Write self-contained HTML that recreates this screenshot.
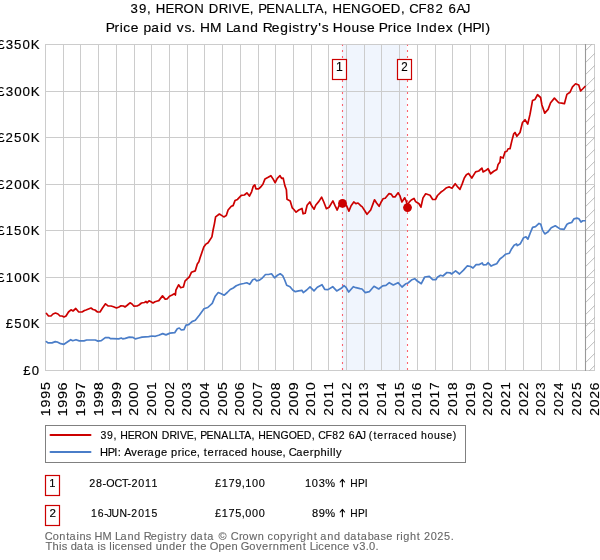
<!DOCTYPE html>
<html><head><meta charset="utf-8"><title>39, Heron Drive, Penallta - Price paid vs HPI</title>
<style>html,body{margin:0;padding:0;background:#fff;overflow:hidden}svg{display:block;will-change:transform}text{font-family:"Liberation Sans", sans-serif;font-kerning:none;font-variant-ligatures:none}</style>
</head><body>
<svg width="600" height="560" viewBox="0 0 600 560">
<rect x="0" y="0" width="600" height="560" fill="#fff"/>
<rect x="341.8" y="44.8" width="65.0" height="325.5" fill="#f0f5fd"/>
<path d="M45.5 44 V371 M63.5 44 V371 M80.5 44 V371 M98.5 44 V371 M116.5 44 V371 M134.5 44 V371 M151.5 44 V371 M169.5 44 V371 M187.5 44 V371 M204.5 44 V371 M222.5 44 V371 M240.5 44 V371 M258.5 44 V371 M275.5 44 V371 M293.5 44 V371 M311.5 44 V371 M328.5 44 V371 M346.5 44 V371 M364.5 44 V371 M381.5 44 V371 M399.5 44 V371 M417.5 44 V371 M435.5 44 V371 M452.5 44 V371 M470.5 44 V371 M488.5 44 V371 M505.5 44 V371 M523.5 44 V371 M541.5 44 V371 M559.5 44 V371 M576.5 44 V371 M594.5 44 V371 M45 370.5 H595 M45 323.5 H595 M45 277.5 H595 M45 230.5 H595 M45 184.5 H595 M45 137.5 H595 M45 91.5 H595 M45 44.5 H595" stroke="#cccccc" stroke-width="1" fill="none"/>
<clipPath id="hc"><rect x="585.5" y="44" width="9.5" height="327"/></clipPath>
<path d="M585.5 26.65 L595 17.15 M585.5 38.65 L595 29.15 M585.5 50.65 L595 41.15 M585.5 62.65 L595 53.15 M585.5 74.65 L595 65.15 M585.5 86.65 L595 77.15 M585.5 98.65 L595 89.15 M585.5 110.65 L595 101.15 M585.5 122.65 L595 113.15 M585.5 134.65 L595 125.15 M585.5 146.65 L595 137.15 M585.5 158.65 L595 149.15 M585.5 170.65 L595 161.15 M585.5 182.65 L595 173.15 M585.5 194.65 L595 185.15 M585.5 206.65 L595 197.15 M585.5 218.65 L595 209.15 M585.5 230.65 L595 221.15 M585.5 242.65 L595 233.15 M585.5 254.65 L595 245.15 M585.5 266.65 L595 257.15 M585.5 278.65 L595 269.15 M585.5 290.65 L595 281.15 M585.5 302.65 L595 293.15 M585.5 314.65 L595 305.15 M585.5 326.65 L595 317.15 M585.5 338.65 L595 329.15 M585.5 350.65 L595 341.15 M585.5 362.65 L595 353.15 M585.5 374.65 L595 365.15 M585.5 386.65 L595 377.15 M585.5 398.65 L595 389.15" stroke="#b4b4b4" stroke-width="0.9" fill="none" clip-path="url(#hc)"/>
<path d="M585.5 44 V371" stroke="#999" stroke-width="1.1"/>
<path d="M342.5 44.8 V370.3" stroke="#fb6470" stroke-width="1.1" stroke-dasharray="2 4" stroke-dashoffset="0.8"/>
<path d="M407.5 44.8 V370.3" stroke="#fb6470" stroke-width="1.1" stroke-dasharray="2 4" stroke-dashoffset="0.8"/>
<polyline points="46.40,341.60 48.00,342.90 52.00,342.90 55.30,341.60 57.30,342.00 60.70,343.70 64.00,344.30 67.30,342.00 70.70,339.70 72.70,340.70 76.00,339.70 79.30,340.90 84.00,340.90 86.70,340.00 95.30,340.00 98.00,341.10 101.30,340.70 105.30,337.60 108.70,337.60 110.70,338.70 112.70,338.70 118.70,338.90 121.30,338.00 122.70,338.90 125.30,338.40 129.30,337.10 132.70,337.30 135.30,338.90 138.70,338.00 142.00,337.10 148.70,336.70 152.00,336.00 155.30,336.30 158.70,335.30 162.70,333.60 166.00,334.90 170.00,333.10 174.70,332.70 177.30,328.70 179.30,328.00 181.30,330.00 184.00,329.60 186.00,325.10 188.70,324.70 192.00,321.60 195.30,320.30 199.50,315.00 204.00,308.70 207.75,307.50 212.25,303.30 215.25,296.20 218.25,292.50 221.25,293.70 224.25,295.20 227.25,292.50 230.25,289.50 233.25,288.00 236.25,285.75 240.00,284.25 243.75,283.50 246.75,282.75 249.75,284.25 252.75,279.75 255.00,279.00 256.50,280.80 259.50,280.20 262.50,277.80 265.50,274.50 268.50,274.50 271.50,273.75 274.50,277.80 277.50,275.25 280.20,273.75 282.70,275.70 284.70,280.00 286.70,285.30 290.00,286.70 292.70,290.00 295.30,291.70 298.70,290.90 302.00,290.40 303.30,292.70 306.70,290.00 310.00,286.90 314.00,290.90 317.30,287.30 322.00,284.70 324.70,289.30 328.00,289.60 332.70,286.70 336.70,290.90 341.30,288.30 344.00,285.60 346.00,287.30 348.70,292.00 353.30,286.70 356.00,287.70 360.00,288.60 362.00,289.00 365.30,292.60 369.30,291.70 374.00,286.30 378.70,289.00 382.70,285.90 386.00,285.40 389.30,282.70 393.30,285.00 398.00,282.70 402.00,287.00 406.00,283.70 408.00,283.00 412.00,279.70 414.70,278.70 417.30,281.00 421.30,283.70 424.70,277.00 429.30,276.30 432.70,279.70 436.00,279.70 437.40,277.20 440.50,275.30 442.90,276.00 446.90,272.50 450.00,272.80 451.60,274.00 455.60,270.90 459.50,274.00 463.50,270.10 467.40,265.80 470.60,266.50 473.00,268.00 476.10,264.60 479.30,264.60 482.20,263.00 483.30,264.90 486.40,264.60 488.00,262.70 491.20,266.10 494.30,264.60 496.70,263.80 499.90,259.00 503.00,256.60 505.40,254.30 509.40,253.20 511.70,248.70 514.10,245.30 516.50,244.00 517.30,245.60 520.40,243.70 523.60,237.70 526.00,236.90 527.90,239.10 530.25,233.00 532.60,227.40 535.50,226.60 539.00,223.40 540.75,224.25 542.50,230.10 544.80,233.90 547.75,232.10 551.25,227.75 555.30,225.80 560.00,228.90 564.10,229.30 567.00,224.25 569.30,223.10 571.70,222.50 574.00,218.80 576.90,218.10 578.90,218.80 581.00,222.00 582.75,220.75 585.10,220.75" fill="none" stroke="#4a7dc8" stroke-width="1.7" stroke-linejoin="round" stroke-linecap="round"/>
<polyline points="46.50,313.50 48.50,316.00 51.00,316.00 53.00,314.00 55.50,313.00 58.00,314.00 60.00,316.00 62.00,316.00 64.00,317.00 66.00,316.00 68.50,312.00 71.00,309.80 73.00,311.00 75.80,308.50 78.50,311.80 82.00,312.00 84.50,310.50 86.00,310.00 88.50,309.00 91.00,308.00 93.00,309.50 95.00,310.00 97.50,312.00 100.00,312.00 102.50,308.00 105.50,303.80 108.00,305.80 111.00,306.00 113.50,306.80 116.50,308.00 119.00,307.00 121.00,305.80 123.50,306.00 125.00,307.00 127.50,305.00 130.00,302.80 132.00,304.00 134.00,306.20 137.00,306.00 139.00,305.00 141.50,303.00 144.50,302.50 146.00,301.50 147.00,302.80 149.00,300.80 151.00,301.80 153.00,303.00 155.00,301.80 157.50,301.00 158.80,300.60 162.50,295.90 165.20,299.10 167.30,298.80 169.50,296.30 172.10,295.00 174.30,293.70 175.40,295.00 175.90,290.20 178.60,284.80 180.70,287.70 183.40,287.00 185.00,281.10 187.20,278.90 189.30,277.00 191.40,272.30 195.20,270.90 197.30,263.90 198.90,261.80 200.00,258.10 201.90,252.50 203.80,246.90 205.60,244.40 208.10,242.80 211.90,236.90 213.10,230.00 214.40,223.80 215.60,216.90 219.40,214.00 221.90,215.60 223.80,216.90 226.30,215.60 228.10,210.00 231.30,206.30 233.10,205.60 235.00,200.60 237.50,199.40 241.30,195.30 244.40,195.00 246.90,192.80 249.40,196.00 251.60,191.80 253.20,186.40 254.80,184.80 255.90,188.80 258.60,188.80 260.70,187.00 262.90,184.30 265.00,178.90 267.70,177.60 270.90,175.70 273.00,178.90 275.20,182.70 277.30,178.40 280.00,175.70 281.60,178.40 283.20,178.10 284.80,185.40 286.40,189.70 287.00,199.30 290.20,200.90 292.30,207.90 293.90,209.50 296.10,212.20 298.80,210.00 302.00,208.40 303.10,213.80 305.20,213.20 307.10,205.20 309.80,202.00 312.00,206.30 314.10,209.20 315.70,205.20 318.90,201.40 321.60,197.10 323.80,202.00 326.40,208.70 329.10,207.30 332.90,200.90 335.00,205.70 337.20,210.00 339.30,205.20 342.50,203.40 346.30,205.20 348.90,211.10 351.10,205.70 353.80,202.00 355.90,203.60 358.00,203.00 360.70,205.70 362.10,206.60 364.30,210.00 367.00,214.30 370.70,210.00 372.90,204.10 374.50,199.80 376.60,203.00 379.10,206.30 380.90,202.50 383.00,198.80 385.20,198.20 388.90,193.70 391.10,194.10 393.10,196.90 395.00,196.90 398.10,192.80 400.00,195.90 401.90,201.90 404.70,197.80 405.90,200.30 407.40,205.00 409.40,201.90 411.25,200.00 414.00,198.40 415.60,201.60 417.50,202.80 419.00,203.75 420.90,207.20 423.00,197.90 425.70,193.80 430.00,195.20 432.70,199.50 435.40,199.50 437.50,195.50 440.70,192.30 443.40,190.40 446.60,187.70 449.30,186.90 452.00,188.20 455.20,183.70 457.90,187.20 460.00,189.30 462.20,183.90 464.30,178.00 466.40,174.80 468.60,173.40 471.80,178.00 475.60,171.90 478.75,171.00 481.90,168.10 483.10,171.90 485.60,170.60 488.10,168.75 490.60,173.75 493.75,171.25 496.90,169.40 498.10,164.40 500.00,161.90 500.60,156.90 503.10,158.10 505.00,151.90 506.90,151.25 508.10,148.75 510.00,148.75 511.90,140.60 513.75,133.75 515.00,132.50 516.90,136.25 520.00,132.50 522.50,122.50 525.00,119.75 527.75,124.00 530.00,114.40 532.50,100.60 535.00,99.40 537.50,94.75 540.60,97.50 541.90,105.00 544.75,113.10 548.10,109.40 550.60,102.75 554.40,98.10 558.75,102.75 561.90,103.10 564.40,103.75 566.90,94.40 570.00,92.25 572.50,86.90 575.60,83.75 578.75,85.00 580.60,91.00 583.10,88.50 585.00,86.50" fill="none" stroke="#cc0000" stroke-width="1.7" stroke-linejoin="round" stroke-linecap="round"/>
<circle cx="342.5" cy="203.4" r="4.4" fill="#cc0000"/>
<circle cx="407.5" cy="207.6" r="4.4" fill="#cc0000"/>
<rect x="332.5" y="59.5" width="14" height="20" fill="#fff" stroke="#cc0000" stroke-width="1.2"/>
<text x="335.96" y="71.00" font-size="11.90" textLength="6.84" lengthAdjust="spacingAndGlyphs" fill="#000" stroke="#000" stroke-width="0.15">1</text>
<rect x="397.5" y="59.5" width="14" height="20" fill="#fff" stroke="#cc0000" stroke-width="1.2"/>
<text x="401.31" y="71.00" font-size="11.90" textLength="6.47" lengthAdjust="spacingAndGlyphs" fill="#000" stroke="#000" stroke-width="0.15">2</text>
<text transform="scale(1.0333,1)" x="22.46 30.77" y="374.80" font-size="12.70" fill="#000" stroke="#000" stroke-width="0.15">£0</text>
<text transform="scale(1.0313,1)" x="5.68 13.93 22.05 29.85" y="328.30" font-size="12.70" fill="#000" stroke="#000" stroke-width="0.15">£50K</text>
<text transform="scale(1.0537,1)" x="-2.75 5.39 13.42 21.39 29.08" y="281.80" font-size="12.70" fill="#000" stroke="#000" stroke-width="0.15">£100K</text>
<text transform="scale(1.0418,1)" x="-2.74 5.49 13.57 21.68 29.47" y="235.30" font-size="12.70" fill="#000" stroke="#000" stroke-width="0.15">£150K</text>
<text transform="scale(1.0554,1)" x="-2.75 5.27 13.39 21.35 29.03" y="188.80" font-size="12.70" fill="#000" stroke="#000" stroke-width="0.15">£200K</text>
<text transform="scale(1.0436,1)" x="-2.74 5.37 13.54 21.63 29.41" y="142.30" font-size="12.70" fill="#000" stroke="#000" stroke-width="0.15">£250K</text>
<text transform="scale(1.0546,1)" x="-2.75 5.46 13.41 21.37 29.05" y="95.80" font-size="12.70" fill="#000" stroke="#000" stroke-width="0.15">£300K</text>
<text transform="scale(1.0429,1)" x="-2.74 5.56 13.55 21.65 29.43" y="49.30" font-size="12.70" fill="#000" stroke="#000" stroke-width="0.15">£350K</text>
<text transform="translate(49.70,415) rotate(-90) scale(1.1164,1)" x="-1.08 6.74 14.53 22.32" y="0.00" font-size="12.80" fill="#000" stroke="#000" stroke-width="0.15">1995</text>
<text transform="translate(67.40,415) rotate(-90) scale(1.1311,1)" x="-1.14 6.50 14.11 21.76" y="0.00" font-size="12.80" fill="#000" stroke="#000" stroke-width="0.15">1996</text>
<text transform="translate(85.11,415) rotate(-90) scale(1.1258,1)" x="-1.10 6.65 14.37 22.10" y="0.00" font-size="12.80" fill="#000" stroke="#000" stroke-width="0.15">1997</text>
<text transform="translate(102.81,415) rotate(-90) scale(1.1268,1)" x="-1.12 6.56 14.22 21.92" y="0.00" font-size="12.80" fill="#000" stroke="#000" stroke-width="0.15">1998</text>
<text transform="translate(120.51,415) rotate(-90) scale(1.1340,1)" x="-1.14 6.51 14.12 21.74" y="0.00" font-size="12.80" fill="#000" stroke="#000" stroke-width="0.15">1999</text>
<text transform="translate(138.22,415) rotate(-90) scale(1.0895,1)" x="-0.72 7.23 15.02 22.82" y="0.00" font-size="12.80" fill="#000" stroke="#000" stroke-width="0.15">2000</text>
<text transform="translate(155.92,415) rotate(-90) scale(1.0894,1)" x="-0.69 7.35 15.23 23.04" y="0.00" font-size="12.80" fill="#000" stroke="#000" stroke-width="0.15">2001</text>
<text transform="translate(173.62,415) rotate(-90) scale(1.0951,1)" x="-0.70 7.33 15.19 22.89" y="0.00" font-size="12.80" fill="#000" stroke="#000" stroke-width="0.15">2002</text>
<text transform="translate(191.33,415) rotate(-90) scale(1.0847,1)" x="-0.70 7.34 15.21 23.10" y="0.00" font-size="12.80" fill="#000" stroke="#000" stroke-width="0.15">2003</text>
<text transform="translate(209.03,415) rotate(-90) scale(1.0850,1)" x="-0.72 7.23 15.02 22.81" y="0.00" font-size="12.80" fill="#000" stroke="#000" stroke-width="0.15">2004</text>
<text transform="translate(226.73,415) rotate(-90) scale(1.0834,1)" x="-0.68 7.39 15.29 23.15" y="0.00" font-size="12.80" fill="#000" stroke="#000" stroke-width="0.15">2005</text>
<text transform="translate(244.44,415) rotate(-90) scale(1.0973,1)" x="-0.75 7.14 14.87 22.59" y="0.00" font-size="12.80" fill="#000" stroke="#000" stroke-width="0.15">2006</text>
<text transform="translate(262.14,415) rotate(-90) scale(1.0922,1)" x="-0.71 7.29 15.13 22.94" y="0.00" font-size="12.80" fill="#000" stroke="#000" stroke-width="0.15">2007</text>
<text transform="translate(279.84,415) rotate(-90) scale(1.0933,1)" x="-0.73 7.20 14.97 22.75" y="0.00" font-size="12.80" fill="#000" stroke="#000" stroke-width="0.15">2008</text>
<text transform="translate(297.55,415) rotate(-90) scale(1.1001,1)" x="-0.75 7.14 14.87 22.57" y="0.00" font-size="12.80" fill="#000" stroke="#000" stroke-width="0.15">2009</text>
<text transform="translate(315.25,415) rotate(-90) scale(1.0777,1)" x="-0.69 7.35 15.16 23.11" y="0.00" font-size="12.80" fill="#000" stroke="#000" stroke-width="0.15">2010</text>
<text transform="translate(332.95,415) rotate(-90) scale(1.0769,1)" x="-0.66 7.48 15.38 23.35" y="0.00" font-size="12.80" fill="#000" stroke="#000" stroke-width="0.15">2011</text>
<text transform="translate(350.65,415) rotate(-90) scale(1.0827,1)" x="-0.67 7.45 15.34 23.20" y="0.00" font-size="12.80" fill="#000" stroke="#000" stroke-width="0.15">2012</text>
<text transform="translate(368.36,415) rotate(-90) scale(1.0725,1)" x="-0.66 7.46 15.36 23.40" y="0.00" font-size="12.80" fill="#000" stroke="#000" stroke-width="0.15">2013</text>
<text transform="translate(386.06,415) rotate(-90) scale(1.0735,1)" x="-0.69 7.35 15.16 23.10" y="0.00" font-size="12.80" fill="#000" stroke="#000" stroke-width="0.15">2014</text>
<text transform="translate(403.76,415) rotate(-90) scale(1.0711,1)" x="-0.65 7.51 15.45 23.46" y="0.00" font-size="12.80" fill="#000" stroke="#000" stroke-width="0.15">2015</text>
<text transform="translate(421.47,415) rotate(-90) scale(1.0857,1)" x="-0.72 7.25 15.00 22.87" y="0.00" font-size="12.80" fill="#000" stroke="#000" stroke-width="0.15">2016</text>
<text transform="translate(439.17,415) rotate(-90) scale(1.0800,1)" x="-0.68 7.41 15.27 23.24" y="0.00" font-size="12.80" fill="#000" stroke="#000" stroke-width="0.15">2017</text>
<text transform="translate(456.87,415) rotate(-90) scale(1.0815,1)" x="-0.70 7.32 15.11 23.03" y="0.00" font-size="12.80" fill="#000" stroke="#000" stroke-width="0.15">2018</text>
<text transform="translate(474.58,415) rotate(-90) scale(1.0884,1)" x="-0.72 7.26 15.01 22.85" y="0.00" font-size="12.80" fill="#000" stroke="#000" stroke-width="0.15">2019</text>
<text transform="translate(492.28,415) rotate(-90) scale(1.0797,1)" x="-0.70 7.33 15.03 23.06" y="0.00" font-size="12.80" fill="#000" stroke="#000" stroke-width="0.15">2020</text>
<text transform="translate(509.98,415) rotate(-90) scale(1.0791,1)" x="-0.67 7.45 15.24 23.30" y="0.00" font-size="12.80" fill="#000" stroke="#000" stroke-width="0.15">2021</text>
<text transform="translate(527.69,415) rotate(-90) scale(1.0849,1)" x="-0.67 7.43 15.20 23.14" y="0.00" font-size="12.80" fill="#000" stroke="#000" stroke-width="0.15">2022</text>
<text transform="translate(545.39,415) rotate(-90) scale(1.0747,1)" x="-0.67 7.44 15.22 23.35" y="0.00" font-size="12.80" fill="#000" stroke="#000" stroke-width="0.15">2023</text>
<text transform="translate(563.09,415) rotate(-90) scale(1.0754,1)" x="-0.70 7.33 15.02 23.05" y="0.00" font-size="12.80" fill="#000" stroke="#000" stroke-width="0.15">2024</text>
<text transform="translate(580.80,415) rotate(-90) scale(1.0733,1)" x="-0.66 7.49 15.31 23.40" y="0.00" font-size="12.80" fill="#000" stroke="#000" stroke-width="0.15">2025</text>
<text transform="translate(598.50,415) rotate(-90) scale(1.0876,1)" x="-0.72 7.23 14.87 22.83" y="0.00" font-size="12.80" fill="#000" stroke="#000" stroke-width="0.15">2026</text>
<text transform="scale(1.0392,1)" x="125.48 133.66 141.52 144.52 149.86 159.15 167.63 176.65 186.93 189.93 200.91 210.58 219.58 223.44 231.94 240.45 243.45 248.41 256.15 264.75 274.37 283.40 290.61 295.76 302.77 311.60 314.60 319.94 329.22 337.83 347.32 357.45 367.30 376.09 385.78 388.78 393.72 402.73 410.92 418.98 421.98 431.51 439.34 446.15" y="13.00" font-size="12.70" fill="#000" stroke="#000" stroke-width="0.15">39, HERON DRIVE, PENALLTA, HENGOED, CF82 6AJ</text>
<text transform="scale(1.0860,1)" x="97.29 105.50 110.23 113.43 120.45 123.45 132.18 139.35 147.45 150.89 153.89 162.85 169.82 176.32 179.32 184.06 193.35 196.35 208.08 214.60 222.80 230.54 233.54 241.92 250.35 257.98 265.83 269.09 276.03 280.93 285.82 293.15 296.19 299.19 306.50 316.00 323.68 331.29 337.90 340.90 348.85 357.06 361.79 365.00 372.02 375.02 383.32 387.33 395.07 402.90 410.46 413.46 421.23 426.15 435.09 442.91 447.12" y="31.90" font-size="12.70" fill="#000" stroke="#000" stroke-width="0.15">Price paid vs. HM Land Registry&#x27;s House Price Index (HPI)</text>
<rect x="45.5" y="425.5" width="420" height="37" fill="#fff" stroke="#808080" stroke-width="1"/>
<path d="M50.5 435 H90.5" stroke="#cc0000" stroke-width="2" stroke-linecap="round"/>
<path d="M50.5 452 H90.5" stroke="#4a7dc8" stroke-width="2" stroke-linecap="round"/>
<text transform="scale(0.9372,1)" x="107.16 114.25 121.08 124.08 128.26 136.31 143.65 151.46 160.37 163.37 172.48 180.85 188.70 192.01 199.36 206.78 209.78 213.64 220.34 227.79 236.13 243.96 250.20 254.66 260.73 268.41 271.41 275.60 283.64 291.09 299.31 308.08 316.63 324.23 332.68 335.68 339.50 347.32 354.42 361.41 364.41 372.26 379.04 384.95 387.95 393.52 398.47 402.61 409.82 414.23 418.08 425.20 431.57 438.48 441.48 449.24 456.21 463.17 470.06 476.06 483.21" y="438.90" font-size="11.20" fill="#000" stroke="#000" stroke-width="0.15">39, HERON DRIVE, PENALLTA, HENGOED, CF82 6AJ (terraced house)</text>
<text transform="scale(0.9902,1)" x="101.10 108.75 115.50 118.84 121.84 125.42 132.48 138.57 145.43 148.99 155.92 162.61 165.61 172.63 179.54 183.61 186.30 192.29 198.65 201.65 205.85 209.67 216.52 220.68 224.25 230.98 236.97 243.50 246.50 253.64 260.22 266.78 273.30 278.94 285.30 288.30 291.59 299.11 306.03 312.88 317.03 323.68 330.36 333.30 336.24 339.27" y="455.80" font-size="11.20" fill="#000" stroke="#000" stroke-width="0.15">HPI: Average price, terraced house, Caerphilly</text>
<rect x="45.5" y="475.5" width="14" height="20" fill="#fff" stroke="#cc0000" stroke-width="1.2"/>
<rect x="45.5" y="505.5" width="14" height="20" fill="#fff" stroke="#cc0000" stroke-width="1.2"/>
<text x="49.35" y="487.00" font-size="11.60" textLength="6.19" lengthAdjust="spacingAndGlyphs" fill="#000" stroke="#000" stroke-width="0.15">1</text>
<text x="49.41" y="517.00" font-size="11.60" textLength="6.47" lengthAdjust="spacingAndGlyphs" fill="#000" stroke="#000" stroke-width="0.15">2</text>
<text transform="scale(0.9259,1)" x="96.28 103.65 110.61 114.86 123.54 131.68 137.76 141.97 149.34 156.51 163.72" y="486.80" font-size="11.60" fill="#000" stroke="#000" stroke-width="0.15">28-OCT-2011</text>
<text transform="scale(0.9002,1)" x="101.03 108.56 115.72 118.71 124.00 132.69 141.47 145.88 153.51 160.93 168.42" y="516.90" font-size="11.60" fill="#000" stroke="#000" stroke-width="0.15">16-JUN-2015</text>
<text transform="scale(0.9458,1)" x="227.25 234.50 241.64 248.72 255.59 259.35 266.51 273.61" y="486.80" font-size="11.60" fill="#000" stroke="#000" stroke-width="0.15">£179,100</text>
<text transform="scale(0.9397,1)" x="228.75 236.05 243.23 250.35 257.26 261.11 268.26 275.41" y="516.80" font-size="11.60" fill="#000" stroke="#000" stroke-width="0.15">£175,000</text>
<text transform="scale(0.9519,1)" x="320.32 327.57 334.78 341.80" y="487.00" font-size="11.60" fill="#000" stroke="#000" stroke-width="0.15">103%</text>
<text transform="scale(0.9560,1)" x="326.40 333.37 340.21" y="517.00" font-size="11.60" fill="#000" stroke="#000" stroke-width="0.15">89%</text>
<text transform="scale(0.8790,1)" x="398.52 407.33 414.85" y="487.00" font-size="11.60" fill="#000" stroke="#000" stroke-width="0.15">HPI</text>
<path d="M342.4 486.7 V479.6 M340.2 482.0 L342.4 479.4 L344.6 482.0" stroke="#000" stroke-width="1.1" fill="none" stroke-linecap="round" stroke-linejoin="round"/>
<text transform="scale(0.8790,1)" x="398.52 407.33 414.85" y="517.00" font-size="11.60" fill="#000" stroke="#000" stroke-width="0.15">HPI</text>
<path d="M342.4 516.7 V509.6 M340.2 512.0 L342.4 509.4 L344.6 512.0" stroke="#000" stroke-width="1.1" fill="none" stroke-linecap="round" stroke-linejoin="round"/>
<text transform="scale(1.0341,1)" x="43.38 50.98 57.32 63.96 67.23 73.91 76.79 83.00 86.00 91.45 99.07 102.07 111.19 116.54 123.27 129.63 132.63 138.96 145.90 152.16 158.64 161.29 167.00 171.02 175.03 178.03 184.13 190.15 197.08 200.35 203.35 211.20 214.20 223.08 231.03 234.62 241.00 249.28 252.28 258.68 264.40 270.80 277.26 283.44 287.33 290.13 296.64 303.29 306.29 309.80 316.53 322.89 325.89 332.57 338.59 345.52 348.80 355.58 361.47 367.98 373.40 376.40 383.21 387.10 389.90 396.41 403.06 406.06 409.93 416.53 422.86 429.42 435.78" y="539.70" font-size="10.60" fill="#666" stroke="#666" stroke-width="0.1">Contains HM Land Registry data © Crown copyright and database right 2025.</text>
<text transform="scale(1.0500,1)" x="43.46 49.94 56.25 58.82 61.82 67.31 73.20 80.03 83.21 86.21 92.96 95.53 98.53 104.07 106.84 109.36 115.00 121.22 127.32 132.63 138.77 141.77 148.29 154.64 160.87 167.17 173.63 176.63 180.87 184.54 190.77 193.77 199.72 208.03 214.21 220.43 223.43 229.41 237.49 243.78 249.51 255.97 259.65 266.19 275.56 281.78 288.31 291.31 294.96 300.69 303.21 308.85 315.07 321.12 326.76 329.76 336.21 342.04 348.24 351.52 357.74" y="549.70" font-size="10.60" fill="#666" stroke="#666" stroke-width="0.1">This data is licensed under the Open Government Licence v3.0.</text>
</svg>
</body></html>
